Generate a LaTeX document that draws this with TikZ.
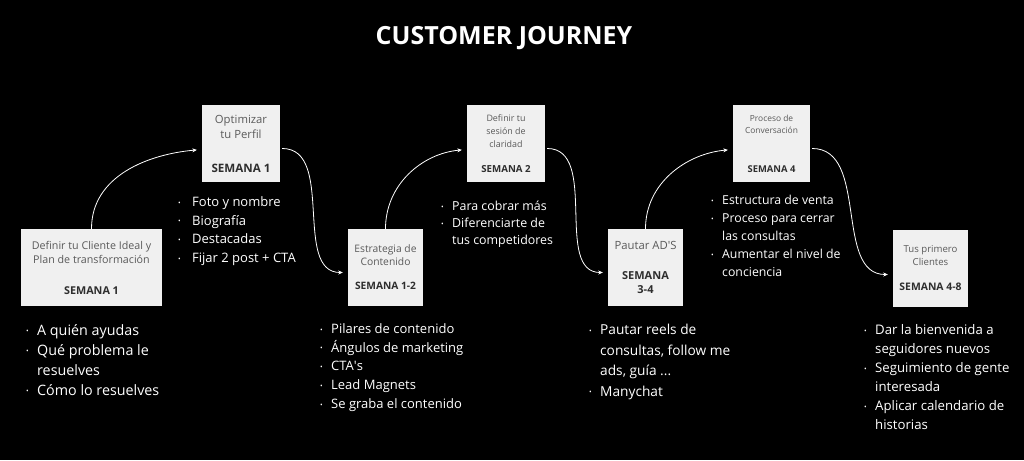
\documentclass[tikz,border=0pt]{standalone}
\usepackage{fontspec}
\setmainfont{Open Sans}
\usetikzlibrary{arrows.meta}
\definecolor{boxfill}{HTML}{F0F0F0}
\definecolor{boxtext}{HTML}{5A5A5A}
\definecolor{weektext}{HTML}{2E2E2E}
\newlength{\bw}
\setlength{\bw}{11pt}
\newcommand{\bul}{\makebox[\bw][l]{\raisebox{0.1em}{\fontsize{7}{7}\selectfont\textbullet}}}
\newcommand{\nob}{\hspace*{\bw}}
\newcommand{\wk}[2]{{\color{weektext}\bfseries\fontsize{#1}{#1}\selectfont #2}}
\begin{document}
\begin{tikzpicture}[x=1pt,y=1pt,
    etapa/.style={fill=boxfill,text=boxtext,minimum height=77pt,inner sep=0pt,align=center},
    lista/.style={anchor=north west,inner sep=0pt,align=left,text=white},
    flecha/.style={draw=white,line width=0.8pt,shorten >=5pt,-{Stealth[length=4.5pt,width=4pt]}}]
    \path[fill=black] (0,0) rectangle (1024,460);
    \node[text=white,font=\fontsize{25}{28}\selectfont\bfseries] (titulo) at (504,422) {CUSTOMER JOURNEY};
    % etapas
    \node[etapa,minimum width=141pt,font=\fontsize{10.7}{14}\selectfont] (b1) at (91.5,192.5)
        {Definir tu Cliente Ideal y\\Plan de transformación\\[17pt]\wk{10.8}{SEMANA 1}};
    \node[etapa,minimum width=78pt,font=\fontsize{11.3}{15}\selectfont] (b2) at (241,316.5)
        {Optimizar\\tu Perfil\\[19pt]\wk{11.6}{SEMANA 1}};
    \node[etapa,minimum width=75pt,font=\fontsize{10.3}{13}\selectfont] (b3) at (385.5,192.5)
        {Estrategia de\\Contenido\\[11pt]\wk{10.2}{SEMANA 1-2}};
    \node[etapa,minimum width=78pt,font=\fontsize{8.9}{13}\selectfont] (b4) at (506,316.5)
        {Definir tu\\sesión de\\claridad\\[12pt]\wk{9.7}{SEMANA 2}};
    \node[etapa,minimum width=75pt,font=\fontsize{11.3}{14}\selectfont] (b5) at (645.5,192.5)
        {Pautar AD\textquotesingle S\\[16pt]\wk{11}{SEMANA}\\\wk{11}{3-4}};
    \node[etapa,minimum width=77pt,font=\fontsize{8.4}{12.5}\selectfont] (b6) at (771.5,316.5)
        {Proceso de\\Conversación\\[26pt]\wk{9.4}{SEMANA 4}};
    \node[etapa,minimum width=75pt,font=\fontsize{9.6}{13}\selectfont] (b7) at (930.5,191.5)
        {Tus primero\\Clientes\\[12pt]\wk{10.4}{SEMANA 4-8}};
    % flechas
    \draw[flecha] (b1.north) to[out=90,in=185] ([yshift=-6pt]b2.west);
    \draw[flecha,shorten <=2pt] ([yshift=-5pt]b2.east) to[out=0,in=180] ([yshift=-5pt]b3.west);
    \draw[flecha] (b3.north) to[out=90,in=185] ([yshift=-6pt]b4.west);
    \draw[flecha,shorten <=2pt] ([yshift=-5pt]b4.east) to[out=0,in=180] ([yshift=-5pt]b5.west);
    \draw[flecha] (b5.north) to[out=90,in=185] ([yshift=-6pt]b6.west);
    \draw[flecha,shorten <=2pt] ([yshift=-5pt]b6.east) to[out=0,in=180] ([yshift=-6pt]b7.west);
    % listas
    \node[lista,font=\fontsize{14.3}{20}\selectfont] (l1) at (26,136)
        {\bul A quién ayudas\\\bul Qué problema le\\\nob resuelves\\\bul Cómo lo resuelves};
    \node[lista,font=\fontsize{13}{18.7}\selectfont] (l2) at (178,263.5)
        {\setlength{\bw}{14pt}\bul Foto y nombre\\\setlength{\bw}{14pt}\bul Biografía\\\setlength{\bw}{14pt}\bul Destacadas\\\setlength{\bw}{14pt}\bul Fijar 2 post + CTA};
    \node[lista,font=\fontsize{13}{18.7}\selectfont] (l3) at (320,136.5)
        {\bul Pilares de contenido\\\bul Ángulos de marketing\\\bul CTA\textquotesingle s\\\bul Lead Magnets\\\bul Se graba el contenido};
    \node[lista,font=\fontsize{12.4}{17}\selectfont] (l4) at (441,259)
        {\bul Para cobrar más\\\bul Diferenciarte de\\\nob tus competidores};
    \node[lista,font=\fontsize{13.7}{20.5}\selectfont] (l5) at (589,136)
        {\bul Pautar reels de\\\nob consultas, follow me\\\nob ads, guía ...\\\bul Manychat};
    \node[lista,font=\fontsize{12.3}{18}\selectfont] (l6) at (711,265)
        {\bul Estructura de venta\\\bul Proceso para cerrar\\\nob las consultas\\\bul Aumentar el nivel de\\\nob conciencia};
    \node[lista,font=\fontsize{13.2}{19}\selectfont] (l7) at (864,135.5)
        {\bul Dar la bienvenida a\\\nob seguidores nuevos\\\bul Seguimiento de gente\\\nob interesada\\\bul Aplicar calendario de\\\nob historias};
\end{tikzpicture}
\end{document}
